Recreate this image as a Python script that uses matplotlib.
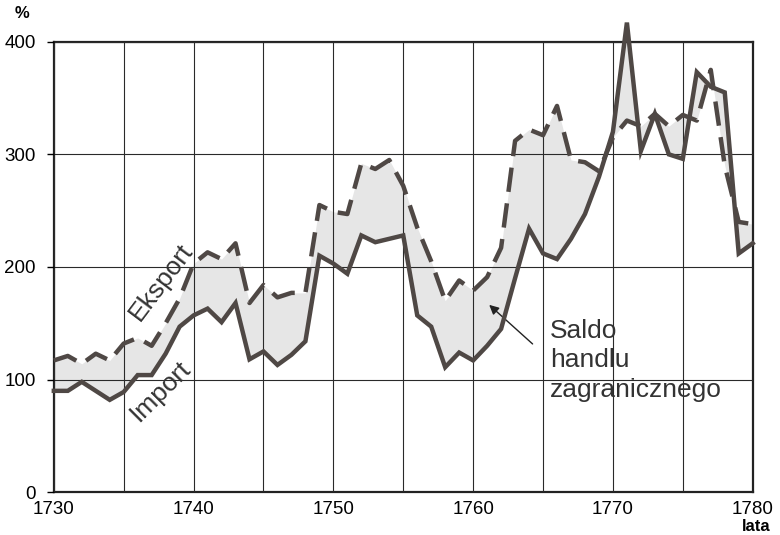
import numpy as np
import matplotlib.pyplot as plt
from matplotlib.ticker import MultipleLocator

plt.rcParams['font.family'] = ['Liberation Sans', 'DejaVu Sans']

years = list(range(1730, 1781))

# import, % (solid line)
import_vals = [90, 90, 98, 90, 82, 89, 104, 104, 123, 147,
               157, 163, 151, 168, 118, 125, 113, 122, 134, 210,
               203, 194, 228, 222, 225, 228, 157, 147, 111, 124,
               117, 130, 145, 190, 234, 212, 207, 225, 247, 280,
               320, 417, 303, 336, 300, 296, 373, 360, 355, 212, 221]

# export, % (dashed line)
export_vals = [117, 121, 114, 123, 117, 132, 137, 130, 150, 172,
               203, 213, 207, 221, 168, 184, 173, 177, 177, 255,
               249, 247, 292, 287, 295, 272, 235, 205, 170, 188,
               179, 191, 217, 312, 322, 317, 343, 295, 293, 285,
               315, 330, 325, 336, 325, 335, 330, 375, 290, 240, 238]

y_ticks = [0, 100, 200, 300, 400]
x_ticks = [1730, 1740, 1750, 1760, 1770, 1780]

line_col = '#4f4845'

fig = plt.figure(figsize=(7.8, 5.35), dpi=100)
ax = fig.add_axes([0.069, 0.080, 0.896, 0.842])

ax.fill_between(years, import_vals, export_vals, color='#e6e6e6', lw=0, zorder=1)
ax.plot(years, export_vals, color=line_col, lw=3.2, ls=(0, (5.5, 2.6)),
        solid_joinstyle='miter', clip_on=False, zorder=4)
ax.plot(years, import_vals, color=line_col, lw=3.2, solid_joinstyle='miter',
        clip_on=False, zorder=4)

ax.set_xlim(1730, 1780)
ax.set_ylim(0, 400)
ax.set_xticks(x_ticks)
ax.xaxis.set_minor_locator(MultipleLocator(5))
ax.set_yticks(y_ticks)
ax.set_axisbelow(False)
ax.grid(which='both', axis='x', color='#2a2a2a', lw=0.8, zorder=2)
ax.grid(which='major', axis='y', color='#2a2a2a', lw=0.8, zorder=2)
ax.tick_params(axis='x', which='both', length=0, pad=6, labelsize=13.5)
ax.tick_params(axis='y', length=5, width=1.0, pad=8, labelsize=13.5)
for s in ax.spines.values():
    s.set_linewidth(1.6)
    s.set_color('#222222')

ax.text(-0.045, 1.062, '%', transform=ax.transAxes, fontsize=12,
        fontweight='bold', ha='center', va='center')
ax.text(1.005, -0.077, 'lata', transform=ax.transAxes, fontsize=12,
        fontweight='bold', ha='center', va='center')

ax.text(1737.7, 187, 'Eksport', fontsize=19, rotation=53,
        rotation_mode='anchor', ha='center', va='center', color='#333333')
ax.text(1737.6, 90, 'Import', fontsize=19, rotation=45,
        rotation_mode='anchor', ha='center', va='center', color='#333333')

ax.text(1765.5, 154, 'Saldo\nhandlu\nzagranicznego', fontsize=19,
        ha='left', va='top', linespacing=1.3, color='#333333')
ax.annotate('', xy=(1761.0, 168), xytext=(1764.4, 130),
            arrowprops=dict(arrowstyle='-|>', color='#222222', lw=1.0,
                            mutation_scale=14))

fig.savefig('out.png', dpi=100)
